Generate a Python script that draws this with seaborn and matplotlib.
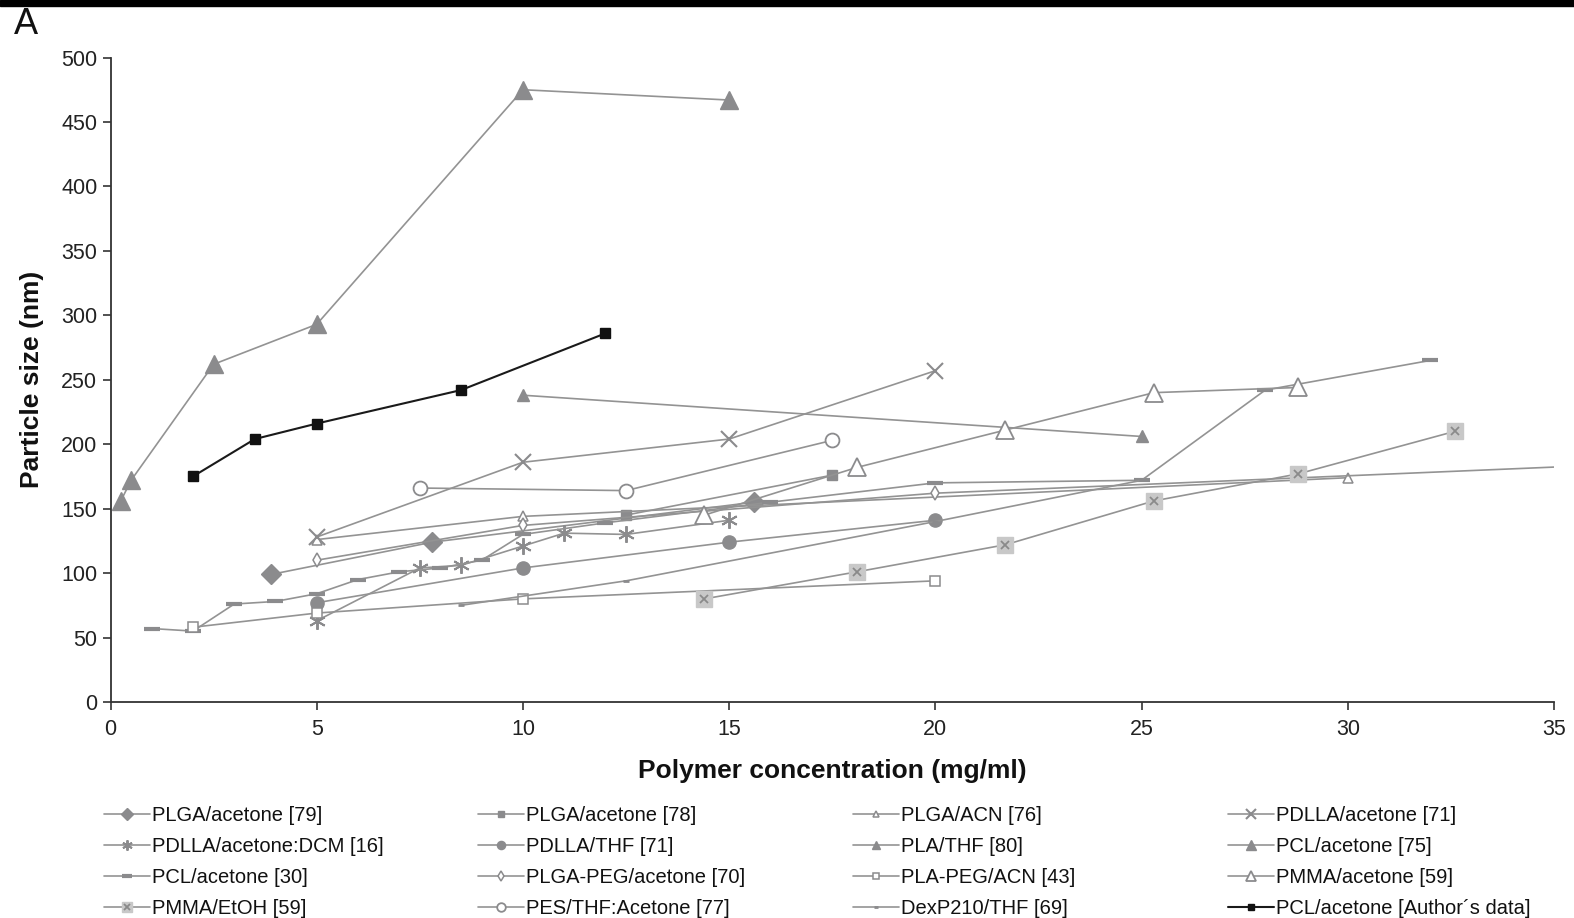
import matplotlib
matplotlib.use('Agg')
import matplotlib.pyplot as plt
import seaborn as sns
from matplotlib.legend_handler import HandlerTuple
from matplotlib.patches import Rectangle

# ---------------- data ----------------
plga_ac79_x = [3.9, 7.8, 15.6]
plga_ac79_y = [99, 124, 155]
plga_ac78_x = [12.5, 17.5]
plga_ac78_y = [145, 176]
plga_acn_x = [5, 10, 30]
plga_acn_y = [126, 144, 174]
pdlla_ac_x = [5, 10, 15, 20]
pdlla_ac_y = [128, 186, 204, 257]
pdlla_dcm_x = [5, 7.5, 8.5, 10, 11, 12.5, 15]
pdlla_dcm_y = [63, 104, 106, 121, 131, 130, 141]
pdlla_thf_x = [5, 10, 15, 20]
pdlla_thf_y = [77, 104, 124, 141]
pla_thf_x = [10, 25]
pla_thf_y = [238, 206]
pcl_ac75_x = [0.25, 0.5, 2.5, 5, 10, 15]
pcl_ac75_y = [156, 172, 262, 293, 475, 467]
pcl_ac30_x = [1, 2, 3, 4, 5, 6, 7, 8, 9, 10, 12, 16, 20, 25, 28, 32]
pcl_ac30_y = [57, 55, 76, 78, 84, 95, 101, 104, 110, 130, 139, 155, 170, 172, 242, 265]
plga_peg_x = [5, 10, 20, 40]
plga_peg_y = [110, 137, 162, 189]
pla_peg_x = [2, 5, 10, 20]
pla_peg_y = [58, 69, 80, 94]
pmma_ac_x = [14.4, 18.1, 21.7, 25.3, 28.8]
pmma_ac_y = [145, 182, 211, 240, 244]
pmma_etoh_x = [14.4, 18.1, 21.7, 25.3, 28.8, 32.6]
pmma_etoh_y = [80, 101, 122, 156, 177, 210]
pes_x = [7.5, 12.5, 17.5]
pes_y = [166, 164, 203]
dexp_x = [8.5, 12.5, 20, 25]
dexp_y = [75, 94, 140, 172]
author_x = [2, 3.5, 5, 8.5, 12]
author_y = [175, 204, 216, 242, 286]

x_ticks = [0, 5, 10, 15, 20, 25, 30, 35]
y_ticks = [0, 50, 100, 150, 200, 250, 300, 350, 400, 450, 500]

# ---------------- style ----------------
sns.set_theme(style='ticks')
plt.rcParams['font.family'] = ['Liberation Sans', 'DejaVu Sans']

LINE = '#939393'
MK = '#8b8b8d'

W, H = 1574, 918
fig = plt.figure(figsize=(W / 100, H / 100), dpi=100)
L, R, B, T = 110.5, 1554, 702, 57.5
ax = fig.add_axes([L / W, 1 - B / H, (R - L) / W, (B - T) / H])

handles = {}


def draw(key, x, y, marker, ms, filled=True, mfc=None, mec=None, mew=1.0,
         color=LINE, lw=1.2, z=2):
    face = (mfc if mfc is not None else MK) if filled else 'white'
    edge = mec if mec is not None else MK
    sns.lineplot(x=x, y=y, ax=ax, color=color, linewidth=lw, marker=marker,
                 markersize=ms, markerfacecolor=face, markeredgecolor=edge,
                 markeredgewidth=mew, estimator=None, sort=False, legend=False,
                 zorder=z)
    handles[key] = ax.lines[-1]


draw('PLGA/acetone [79]', plga_ac79_x, plga_ac79_y, 'D', 10.5)
draw('PLGA/acetone [78]', plga_ac78_x, plga_ac78_y, 's', 6.5)
draw('PLGA/ACN [76]', plga_acn_x, plga_acn_y, '^', 7, filled=False, mew=1.1)
draw('PDLLA/acetone [71]', pdlla_ac_x, pdlla_ac_y, 'x', 11, mew=1.5)
draw('PDLLA/acetone:DCM [16]', pdlla_dcm_x, pdlla_dcm_y, (6, 2, 0), 12, mew=1.4)
draw('PDLLA/THF [71]', pdlla_thf_x, pdlla_thf_y, 'o', 9.5)
draw('PLA/THF [80]', pla_thf_x, pla_thf_y, '^', 8.5)
draw('PCL/acetone [75]', pcl_ac75_x, pcl_ac75_y, '^', 12.5)
draw('PCL/acetone [30]', pcl_ac30_x, pcl_ac30_y, '_', 11, mew=3.0)
draw('PLGA-PEG/acetone [70]', plga_peg_x, plga_peg_y, 'd', 7.5, filled=False, mew=1.1)
draw('PLA-PEG/ACN [43]', pla_peg_x, pla_peg_y, 's', 7, filled=False, mew=1.1)
draw('PMMA/acetone [59]', pmma_ac_x, pmma_ac_y, '^', 12.5, filled=False, mew=1.3)
draw('PMMA/EtOH [59]', pmma_etoh_x, pmma_etoh_y, 's', 11.5, mfc='#c8c8c8', mec='#c8c8c8')
ax.plot(pmma_etoh_x, pmma_etoh_y, ls='none', marker='x', ms=6, mec='#8a8a8a',
        mew=1.3, zorder=3)
pmma_x_marker = ax.lines[-1]
draw('PES/THF:Acetone [77]', pes_x, pes_y, 'o', 10, filled=False, mew=1.3)
draw('DexP210/THF [69]', dexp_x, dexp_y, '_', 5, mew=2.0)
draw('PCL/acetone [Author\u00b4s data]', author_x, author_y, 's', 7.5,
     mfc='#111111', mec='#111111', color='#1a1a1a', lw=1.5, z=5)

# ---------------- axes ----------------
ax.set_xlim(0, 35)
ax.set_ylim(0, 500)
ax.set_xticks(x_ticks)
ax.set_yticks(y_ticks)
ax.tick_params(axis='both', labelsize=15.5, colors='#222222', length=6, width=1.1,
               direction='out')
ax.tick_params(axis='x', pad=6)
for s in ('top', 'right'):
    ax.spines[s].set_visible(False)
for s in ('left', 'bottom'):
    ax.spines[s].set_color('#333333')
    ax.spines[s].set_linewidth(1.3)
ax.set_xlabel('Polymer concentration (mg/ml)', fontsize=19, fontweight='bold',
              color='#111111', labelpad=14)
ax.set_ylabel('Particle size (nm)', fontsize=19, fontweight='bold',
              color='#111111', labelpad=12)

# ---------------- legend (4 fixed columns) ----------------
grid = [
    ['PLGA/acetone [79]', 'PLGA/acetone [78]', 'PLGA/ACN [76]', 'PDLLA/acetone [71]'],
    ['PDLLA/acetone:DCM [16]', 'PDLLA/THF [71]', 'PLA/THF [80]', 'PCL/acetone [75]'],
    ['PCL/acetone [30]', 'PLGA-PEG/acetone [70]', 'PLA-PEG/ACN [43]', 'PMMA/acetone [59]'],
    ['PMMA/EtOH [59]', 'PES/THF:Acetone [77]', 'DexP210/THF [69]',
     'PCL/acetone [Author\u00b4s data]'],
]
col_x = [104, 478, 853, 1228]
for c in range(4):
    labs = [grid[r][c] for r in range(4)]
    hs = []
    for lab in labs:
        if lab == 'PMMA/EtOH [59]':
            hs.append((handles[lab], pmma_x_marker))
        else:
            hs.append(handles[lab])
    fig.legend(hs, labs, loc='upper left',
               bbox_to_anchor=(col_x[c] / W, 1 - 806 / H),
               frameon=False, fontsize=14.5, handlelength=2.3, handletextpad=0.08,
               labelspacing=0.6, borderpad=0, borderaxespad=0, numpoints=1,
               markerscale=0.62,
               handler_map={tuple: HandlerTuple(ndivide=1)},
               labelcolor='#111111')

# panel letter and top rule
fig.text(14 / W, 1 - 25 / H, 'A', fontsize=26, va='center', ha='left',
         color='#111111')
fig.add_artist(Rectangle((0, 1 - 6 / H), 1, 6 / H, transform=fig.transFigure,
                         color='black', zorder=10))

fig.savefig('out.png', dpi=100)
